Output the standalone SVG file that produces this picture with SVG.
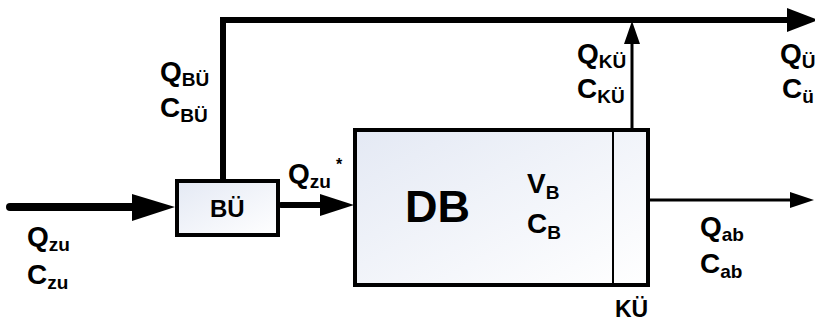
<svg xmlns="http://www.w3.org/2000/svg" width="815" height="324" viewBox="0 0 815 324">
<style>
text{font-family:"Liberation Sans",Arial,sans-serif;font-weight:bold;fill:#000}
.m{font-size:28px}
.s{font-size:19px}
.box{stroke:#000;stroke-width:4;fill:url(#g)}
.ln{stroke:#000;fill:none}
.ah{fill:#000;stroke:none}
</style>
<defs>
<linearGradient id="g" x1="0" y1="0" x2="1" y2="1">
<stop offset="0" stop-color="#e4e9f4"/>
<stop offset="1" stop-color="#ffffff"/>
</linearGradient>
</defs>
<g id="connectors">
<line class="ln" x1="10" y1="207" x2="136" y2="207" stroke-width="8" stroke-linecap="round"/>
<polygon class="ah" points="132,194 175,207 132,221"/>
<polyline class="ln" points="223,181 223,20 792,20" stroke-width="6" stroke-linejoin="miter"/>
<polygon class="ah" points="787,8 818,20 787,32"/>
<line class="ln" x1="281" y1="205" x2="322" y2="205" stroke-width="6" stroke-linecap="round"/>
<polygon class="ah" points="320,194 354,205 320,216"/>
<line class="ln" x1="632" y1="129" x2="632" y2="40" stroke-width="3"/>
<polygon class="ah" points="624,44 632,21 640,44"/>
<line class="ln" x1="649" y1="200" x2="792" y2="200" stroke-width="3"/>
<polygon class="ah" points="790,192 814,200 790,208"/>
</g>
<g id="node-bu">
<rect class="box" x="177" y="181" width="101" height="54"/>
<text x="210" y="217" style="font-size:24px">BÜ</text>
</g>
<g id="node-db">
<rect class="box" x="355" y="130" width="293" height="155"/>
<line class="ln" x1="613" y1="130" x2="613" y2="285" stroke-width="2"/>
<text x="405" y="222" style="font-size:45px">DB</text>
<text x="527" y="193" class="m">V<tspan class="s" dy="6">B</tspan></text>
<text x="527" y="233" class="m">C<tspan class="s" dy="6">B</tspan></text>
<text x="615" y="317" style="font-size:23px">KÜ</text>
</g>
<g id="labels">
<text x="160" y="81" class="m">Q<tspan class="s" dy="5">BÜ</tspan></text>
<text x="160" y="117" class="m">C<tspan class="s" dy="5">BÜ</tspan></text>
<text x="27" y="246" class="m">Q<tspan class="s" dy="5">zu</tspan></text>
<text x="27" y="284" class="m">C<tspan class="s" dy="5">zu</tspan></text>
<text x="288" y="183" class="m">Q<tspan class="s" dy="5">zu</tspan></text>
<text x="336" y="170" style="font-size:16px">*</text>
<text x="577" y="63" class="m">Q<tspan class="s" dy="5">KÜ</tspan></text>
<text x="577" y="98" class="m">C<tspan class="s" dy="5">KÜ</tspan></text>
<text x="780" y="63" class="m">Q<tspan class="s" dy="5">Ü</tspan></text>
<text x="782" y="98" class="m">C<tspan class="s" dy="5">ü</tspan></text>
<text x="700" y="236" class="m">Q<tspan class="s" dy="5">ab</tspan></text>
<text x="700" y="273" class="m">C<tspan class="s" dy="5">ab</tspan></text>
</g>
</svg>
